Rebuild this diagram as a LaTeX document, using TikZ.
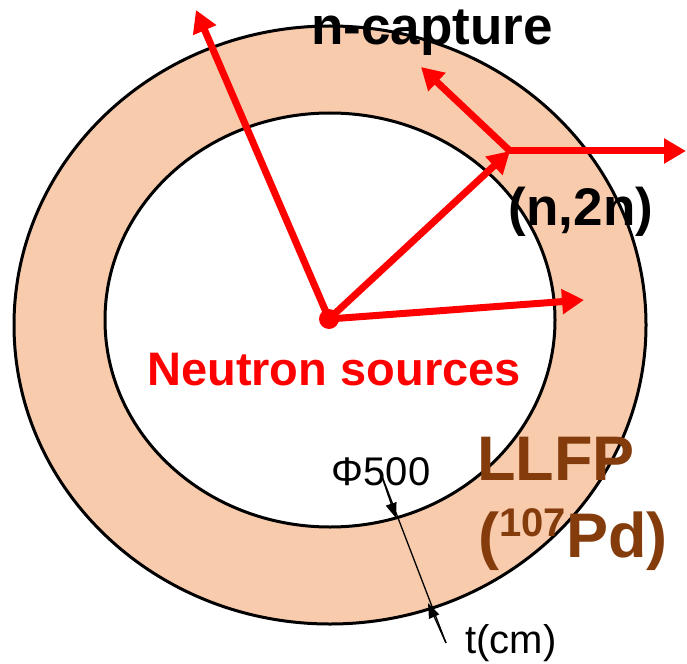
\documentclass[tikz,border=0pt]{standalone}
\usepackage{fontspec}
\setmainfont{Liberation Sans}
\usetikzlibrary{arrows.meta}
\definecolor{ringfill}{HTML}{F8CBAD}
\definecolor{llfp}{HTML}{843C0C}
\tikzset{
  redarrow/.style={draw=red, line width=7pt, -{Triangle[length=22pt,width=24pt]}},
  redline/.style={draw=red, line width=7pt},
  dimline/.style={draw=black, line width=1.3pt},
  dimtip/.style={draw=black, line width=1.3pt, -{Triangle[length=15pt,width=11pt]}},
  lbl/.style={inner sep=0pt, anchor=base},
}
\begin{document}
\begin{tikzpicture}[x=1pt,y=-1pt]
\useasboundingbox (0,0) rectangle (687,663);
% ring
\fill[ringfill] (330,325) ellipse [x radius=316, y radius=299];
\draw[line width=3pt, fill=white] (330,320) ellipse [x radius=225, y radius=207];
\draw[line width=3pt] (330,325) ellipse [x radius=316, y radius=299];
% coordinates
\coordinate (src) at (329,319);
\coordinate (nn) at (510,151);
\coordinate (tipA) at (196,10);
\coordinate (tipB) at (584,300);
\coordinate (tipC) at (686,151);
\coordinate (tipD) at (421,67);
% red arrows
\draw[redarrow] (src) -- (tipA);
\draw[redarrow] (src) -- (tipB);
\draw[redarrow] (src) -- (nn);
\draw[redarrow] (nn) -- (tipD);
\draw[redarrow] ([xshift=-2pt]nn) -- (tipC);
\node[circle, fill=red, minimum size=20pt, inner sep=0pt] (dot) at (src) {};
% dimension line
\coordinate (d0) at (380,471);
\coordinate (d1) at (396,518);
\coordinate (d2) at (428,603);
\coordinate (d3) at (446,643);
\draw[dimline] (d0) -- (d3);
\draw[dimtip] (d0) -- (d1);
\draw[dimtip] (d3) -- (d2);
% labels
\node[lbl, font=\fontsize{53}{53}\selectfont\bfseries] (ncap) at (432,45) {n-capture};
\node[lbl, font=\fontsize{53}{53}\selectfont\bfseries] (n2n) at (581,225) {(n,2n)};
\node[lbl, text=red, font=\fontsize{47}{47}\selectfont\bfseries] (nsrc) at (334,385) {Neutron sources};
\node[lbl, text=llfp, font=\fontsize{63}{63}\selectfont\bfseries] (llfp) at (556,480) {LLFP};
\node[lbl, text=llfp, font=\fontsize{63}{63}\selectfont\bfseries] (pd) at (573,557) {({\fontsize{40}{40}\selectfont\raisebox{21pt}{107}}Pd)};
\node[lbl, font=\fontsize{40}{40}\selectfont] (phi) at (381,485) {Φ500};
\node[lbl, font=\fontsize{40}{40}\selectfont] (tcm) at (511,653) {t(cm)};
\end{tikzpicture}
\end{document}
